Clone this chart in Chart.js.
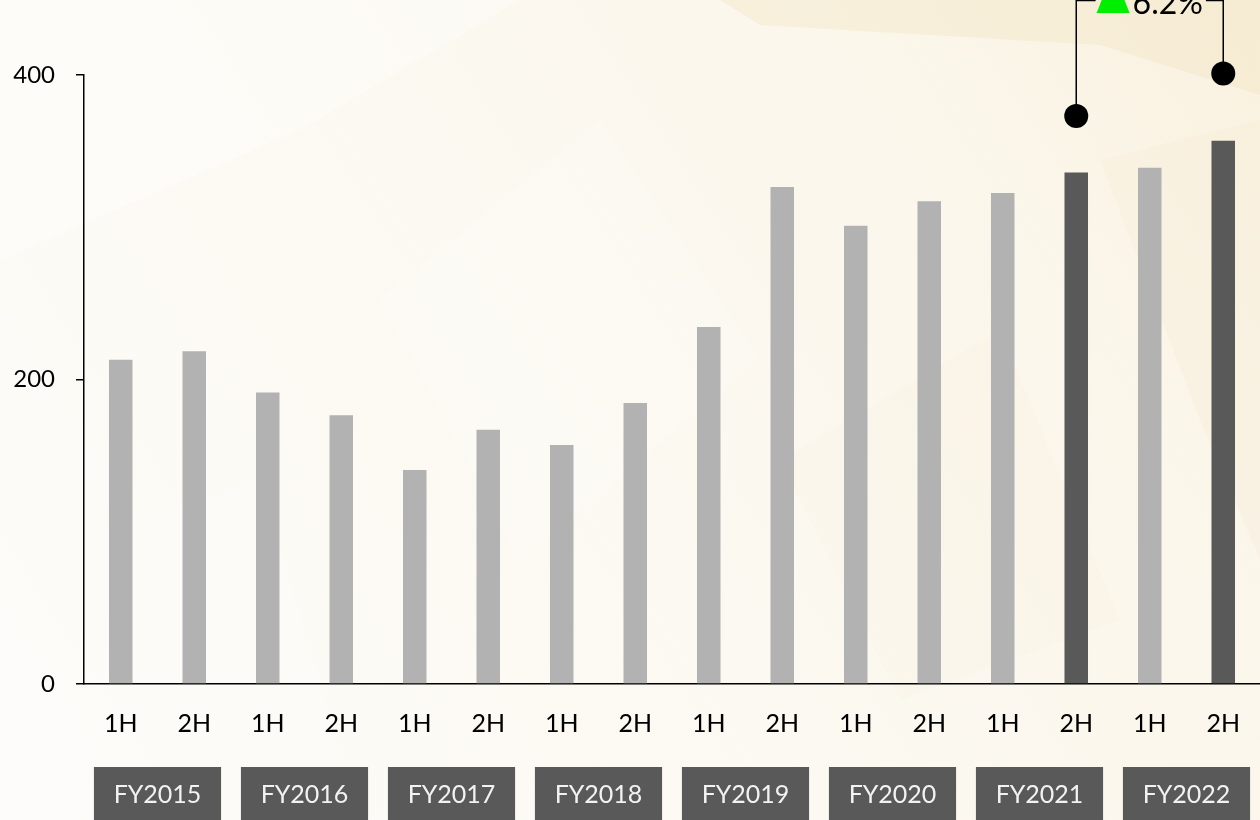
<!DOCTYPE html>
<html>
<head>
<meta charset="utf-8">
<script src="https://cdn.jsdelivr.net/npm/chart.js@4/dist/chart.umd.min.js"></script>
<style>
    html, body { margin: 0; padding: 0; background: #fcfaf4; }
    #wrap { width: 1260px; height: 820px; }
</style>
</head>
<body>
<div id="wrap"><canvas id="myChart" width="1260" height="820"></canvas></div>
<script>
// half-year labels and fiscal years
const halves = ["1H", "2H", "1H", "2H", "1H", "2H", "1H", "2H", "1H", "2H", "1H", "2H", "1H", "2H", "1H", "2H"];
const fiscalYears = ["FY2015", "FY2016", "FY2017", "FY2018", "FY2019", "FY2020", "FY2021", "FY2022"];
const values = [213, 218.5, 191.5, 176.5, 140.5, 167, 157, 184.5, 234.5, 326.5, 301, 317, 322.5, 336, 339, 356.8];
const highlighted = [13, 15];
const yTicks = [0, 200, 400];

// growth bracket between the two highlighted bars
const bracketFrom = 13;
const bracketTo = 15;
const bracketDotLevels = [373, 401];
const bracketTopLevel = 449;

const colors = {
    light: "#b2b2b2",
    dark: "#595959",
    box: "#595959",
    boxText: "#f2f2f2",
    green: "#00ee00"
};

const FONT = "Lato, 'Open Sans', sans-serif";

const barColors = values.map((v, i) => highlighted.includes(i) ? colors.dark : colors.light);

const backgroundPlugin = {
    id: "paperBackground",
    beforeDraw(chart) {
        const { ctx, width, height } = chart;
        ctx.save();
        const g = ctx.createLinearGradient(0, height, width, 0);
        g.addColorStop(0, "#fdfcf9");
        g.addColorStop(0.45, "#fcf9f2");
        g.addColorStop(0.8, "#fbf6ea");
        g.addColorStop(1, "#f9f1df");
        ctx.fillStyle = g;
        ctx.fillRect(0, 0, width, height);

        // faint facets
        const facets = [
            { pts: [[720, 0], [1260, 0], [1260, 95], [1100, 45], [760, 25]], c: "rgba(242, 226, 190, 0.35)" },
            { pts: [[0, 0], [520, 0], [300, 130], [0, 260]], c: "rgba(255, 255, 255, 0.35)" },
            { pts: [[380, 300], [600, 120], [760, 360], [520, 560]], c: "rgba(255, 255, 255, 0.15)" },
            { pts: [[1100, 160], [1260, 120], [1260, 560], [1200, 420]], c: "rgba(245, 232, 205, 0.2)" },
            { pts: [[780, 460], [1000, 330], [1120, 620], [900, 700]], c: "rgba(247, 238, 218, 0.15)" },
            { pts: [[0, 560], [260, 480], [360, 820], [0, 820]], c: "rgba(255, 255, 255, 0.2)" }
        ];
        facets.forEach(f => {
            ctx.beginPath();
            f.pts.forEach((p, i) => i ? ctx.lineTo(p[0], p[1]) : ctx.moveTo(p[0], p[1]));
            ctx.closePath();
            ctx.fillStyle = f.c;
            ctx.fill();
        });
        ctx.restore();
    }
};

const fiscalBoxPlugin = {
    id: "fiscalBoxes",
    afterDraw(chart) {
        const { ctx } = chart;
        const x = chart.scales.x;
        const step = x.getPixelForValue(1) - x.getPixelForValue(0);
        const boxW = step * 1.73;
        ctx.save();
        fiscalYears.forEach((fy, i) => {
            const cx = (x.getPixelForValue(2 * i) + x.getPixelForValue(2 * i + 1)) / 2;
            ctx.fillStyle = colors.box;
            ctx.fillRect(cx - boxW / 2, 767, boxW, 60);
            ctx.fillStyle = colors.boxText;
            ctx.font = "25px " + FONT;
            ctx.textAlign = "center";
            ctx.textBaseline = "middle";
            ctx.fillText(fy, cx, 795);
        });
        ctx.restore();
    }
};

const bracketPlugin = {
    id: "growthBracket",
    afterDatasetsDraw(chart) {
        const { ctx } = chart;
        const x = chart.scales.x;
        const y = chart.scales.y;
        const x1 = x.getPixelForValue(bracketFrom);
        const x2 = x.getPixelForValue(bracketTo);
        const y1 = y.getPixelForValue(bracketDotLevels[0]);
        const y2 = y.getPixelForValue(bracketDotLevels[1]);
        const top = y.getPixelForValue(bracketTopLevel);
        const growth = (values[bracketTo] / values[bracketFrom] - 1) * 100;
        const label = growth.toFixed(1) + "%";

        ctx.save();
        ctx.font = "32px " + FONT;
        const textW = ctx.measureText(label).width;
        const triW = 33;
        const mid = (x1 + x2) / 2;
        const groupW = triW + 3 + textW;
        const gx = mid - groupW / 2;
        const baseY = top + 13;

        // bracket lines
        ctx.strokeStyle = "#000";
        ctx.lineWidth = 1.5;
        ctx.beginPath();
        ctx.moveTo(x1, y1);
        ctx.lineTo(x1, top);
        ctx.lineTo(gx - 1, top);
        ctx.moveTo(gx + groupW + 3, top);
        ctx.lineTo(x2, top);
        ctx.lineTo(x2, y2);
        ctx.stroke();

        // end dots
        ctx.fillStyle = "#000";
        [[x1, y1], [x2, y2]].forEach(p => {
            ctx.beginPath();
            ctx.arc(p[0], p[1], 12, 0, Math.PI * 2);
            ctx.fill();
        });

        // green up triangle
        ctx.fillStyle = colors.green;
        ctx.beginPath();
        ctx.moveTo(gx, baseY - 0.5);
        ctx.lineTo(gx + triW, baseY - 0.5);
        ctx.lineTo(gx + triW / 2, baseY - 42);
        ctx.closePath();
        ctx.fill();

        ctx.fillStyle = "#000";
        ctx.textAlign = "left";
        ctx.textBaseline = "alphabetic";
        ctx.fillText(label, gx + triW + 3, baseY + 1);
        ctx.restore();
    }
};

const ctx = document.getElementById("myChart").getContext("2d");

const myChart = new Chart(ctx, {
    type: "bar",
    data: {
        labels: halves,
        datasets: [{
            data: values,
            backgroundColor: barColors,
            borderWidth: 0,
            barPercentage: 0.32,
            categoryPercentage: 1
        }]
    },
    options: {
        responsive: false,
        animation: false,
        layout: { padding: { top: 75, right: 0, bottom: 0, left: 0 } },
        plugins: {
            legend: { display: false },
            tooltip: { enabled: false }
        },
        scales: {
            x: {
                grid: { display: false },
                border: { display: true, color: "#000", width: 1.5 },
                ticks: {
                    color: "#000",
                    font: { family: FONT, size: 25 },
                    padding: 17,
                    maxRotation: 0,
                    autoSkip: false
                },
                afterFit(scale) { scale.height = 136; }
            },
            y: {
                min: 0,
                max: 400,
                afterBuildTicks(scale) { scale.ticks = yTicks.map(v => ({ value: v })); },
                grid: {
                    drawOnChartArea: false,
                    drawTicks: true,
                    tickLength: 8,
                    color: "#000",
                    lineWidth: 1.5
                },
                border: { display: true, color: "#000", width: 1.5 },
                ticks: {
                    color: "#000",
                    font: { family: FONT, size: 24 },
                    padding: 21
                },
                afterFit(scale) { scale.width = 84; }
            }
        }
    },
    plugins: [backgroundPlugin, fiscalBoxPlugin, bracketPlugin]
});
</script>
</body>
</html>
